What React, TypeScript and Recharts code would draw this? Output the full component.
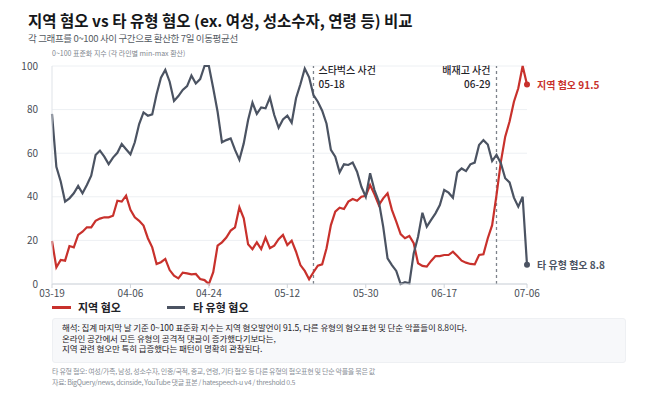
import React from 'react';
import {
  LineChart,
  Line,
  XAxis,
  YAxis,
  CartesianGrid,
  ReferenceLine,
  ReferenceDot,
} from 'recharts';

// Daily categories: 03-19 .. 07-06 (110 days)
const startDay = Date.UTC(2025, 2, 19);
const dayCount = 110;
const dates: string[] = Array.from({ length: dayCount }, (_, i) => {
  const d = new Date(startDay + i * 86400000);
  const mm = String(d.getUTCMonth() + 1).padStart(2, '0');
  const dd = String(d.getUTCDate()).padStart(2, '0');
  return `${mm}-${dd}`;
});

// 7-day moving average, min-max scaled to 0~100
const regionalHate: number[] = [
  19.7, 7.6, 11, 10.7, 17.4, 16.8, 22.5, 24, 26, 26,
  29, 30, 30.6, 30.6, 31.3, 38.2, 37.8, 40.5, 34, 30.6,
  29, 26.8, 21, 16.8, 9.2, 10, 11.5, 6.4, 3.8, 2.6,
  5.2, 4.9, 4.4, 4.6, 2.3, 1.8, 0, 5.4, 17.6, 19.1,
  21.3, 24.5, 26, 35.2, 30.1, 18.2, 16, 19.1, 16, 21.3,
  16.4, 17.6, 20.6, 22.5, 17.9, 19.9, 14.8, 8.7, 6, 2.2,
  5.4, 8.4, 9, 16.4, 27, 33.2, 35, 34.4, 37.8, 39,
  38.2, 40, 40.5, 45.4, 41.1, 36.2, 39.3, 41.6, 34, 28.6,
  22.9, 21, 22, 18.7, 9.5, 8.3, 8, 10.6, 12.8, 12.8,
  13.3, 13.3, 14.8, 12.8, 10.7, 9.8, 9.2, 9, 13.3, 13.6,
  21, 27, 40.8, 56, 67.6, 74.5, 83.6, 89.8, 100, 91.5,
];

const otherHate: number[] = [
  78, 53.8, 47, 37.8, 39.3, 41.6, 45, 41.6, 45.4, 49.7,
  59.2, 61.2, 58.4, 55, 58, 60.2, 64.2, 61.8, 59.5, 65,
  73.4, 78.7, 77.2, 77.8, 87, 94.6, 98.2, 92.8, 84, 86.2,
  89, 90.8, 95.6, 92, 94, 100, 100, 89.8, 79, 65,
  66, 66.8, 61.5, 57, 64.5, 75.2, 83.2, 78, 81, 80.6,
  85.5, 77.5, 71.7, 75.5, 77.2, 74, 85.2, 91.6, 98.8, 94.8,
  86.7, 83.6, 79.5, 73.5, 61.5, 58.4, 51.2, 54.9, 54.6, 55.7,
  51.5, 44.6, 40, 50.8, 43.1, 37.8, 26.3, 11.8, 8.7, 6,
  0, 0.8, 0.3, 14, 21.7, 32.7, 26.3, 29.4, 32.4, 36.2,
  43.1, 41.9, 39.6, 51.2, 53, 51.8, 54.9, 55.7, 63.8, 66,
  64, 56.4, 59.2, 55.4, 48.5, 46.6, 39.6, 35.5, 40, 8.8,
];

const xTicks = ['03-19', '04-06', '04-24', '05-12', '05-30', '06-17', '07-06'];
const yTicks = [0, 20, 40, 60, 80, 100];

const events = [
  { date: '05-18', title: '스타벅스 사건', side: 'right' },
  { date: '06-29', title: '배재고 사건', side: 'left' },
];

const seriesNames = { regional: '지역 혐오', other: '타 유형 혐오' };

const data = dates.map((date, i) => ({
  date,
  regional: regionalHate[i],
  other: otherHate[i],
}));

const RED = '#c8312c';
const GRAY = '#4b5362';
const FONT = '"Noto Sans CJK KR", "Noto Sans", sans-serif';

const lastIdx = dayCount - 1;
const lastDate = dates[lastIdx];
const lastRegional = regionalHate[lastIdx];
const lastOther = otherHate[lastIdx];

function EventLabel(props: any) {
  const { viewBox, title, date, side } = props;
  const x = viewBox.x;
  const y = viewBox.y;
  const right = side === 'right';
  const tx = right ? x + 5 : x - 6;
  const anchor = right ? 'start' : 'end';
  return (
    <g fontFamily={FONT} fontSize={10} fontWeight={500} fill="#1f2328">
      <text x={tx} y={y + 8} textAnchor={anchor}>
        {title}
      </text>
      <text x={tx} y={y + 22} textAnchor={anchor}>
        {date}
      </text>
    </g>
  );
}

function EndLabel(props: any) {
  const { viewBox, text, color } = props;
  return (
    <text
      x={viewBox.x + viewBox.width / 2 + 10}
      y={viewBox.y + viewBox.height / 2 + 4}
      fill={color}
      fontFamily={FONT}
      fontSize={10}
      fontWeight={700}
    >
      {text}
    </text>
  );
}

export default function App() {
  return (
    <div
      style={{
        position: 'absolute',
        left: 0,
        top: 0,
        width: 658,
        height: 403,
        background: '#ffffff',
        fontFamily: FONT,
        overflow: 'hidden',
      }}
    >
      <div
        style={{
          position: 'absolute',
          left: 28,
          top: 9,
          fontSize: 15.5,
          lineHeight: '22px',
          fontWeight: 700,
          color: '#15171a',
          whiteSpace: 'nowrap',
        }}
      >
        지역 혐오 vs 타 유형 혐오 (ex. 여성, 성소수자, 연령 등) 비교
      </div>
      <div
        style={{
          position: 'absolute',
          left: 28,
          top: 31,
          fontSize: 9.5,
          lineHeight: '14px',
          letterSpacing: -0.35,
          color: '#555b63',
          whiteSpace: 'nowrap',
        }}
      >
        각 그래프를 0~100 사이 구간으로 환산한 7일 이동평균선
      </div>
      <div
        style={{
          position: 'absolute',
          left: 52,
          top: 47,
          fontSize: 7,
          lineHeight: '12px',
          color: '#80868e',
          whiteSpace: 'nowrap',
        }}
      >
        0~100 표준화 지수 (각 라인별 min-max 환산)
      </div>

      <div style={{ position: 'absolute', left: 0, top: 0 }}>
        <LineChart
          width={658}
          height={300}
          data={data}
          margin={{ top: 66, right: 131, bottom: 0, left: 12 }}
        >
          <CartesianGrid vertical={false} stroke="#edf0f3" strokeWidth={1} />
          <XAxis
            dataKey="date"
            ticks={xTicks}
            interval={0}
            height={16}
            tick={{ fontSize: 10, fill: '#4a4f57', fontFamily: FONT }}
            tickLine={{ stroke: '#cfd4da' }}
            tickSize={4}
            tickMargin={2}
            axisLine={{ stroke: '#cfd4da' }}
          />
          <YAxis
            domain={[0, 100]}
            ticks={yTicks}
            width={40}
            tick={{ fontSize: 10, fill: '#4a4f57', fontFamily: FONT }}
            tickLine={false}
            tickMargin={8}
            axisLine={{ stroke: '#dfe3e8' }}
          />
          {events.map((ev) => (
            <ReferenceLine
              key={ev.date}
              x={ev.date}
              stroke="#7d838b"
              strokeWidth={1.3}
              strokeDasharray="3 3"
              label={(p: any) => (
                <EventLabel {...p} title={ev.title} date={ev.date} side={ev.side} />
              )}
            />
          ))}
          <Line
            type="linear"
            dataKey="regional"
            name={seriesNames.regional}
            stroke={RED}
            strokeWidth={2.2}
            dot={false}
            activeDot={false}
            isAnimationActive={false}
          />
          <Line
            type="linear"
            dataKey="other"
            name={seriesNames.other}
            stroke={GRAY}
            strokeWidth={2.2}
            dot={false}
            activeDot={false}
            isAnimationActive={false}
          />
          <ReferenceDot
            x={lastDate}
            y={lastRegional}
            r={3}
            fill={RED}
            stroke="none"
            ifOverflow="visible"
            label={(p: any) => (
              <EndLabel {...p} color={RED} text={`${seriesNames.regional} ${lastRegional.toFixed(1)}`} />
            )}
          />
          <ReferenceDot
            x={lastDate}
            y={lastOther}
            r={3}
            fill={GRAY}
            stroke="none"
            ifOverflow="visible"
            label={(p: any) => (
              <EndLabel {...p} color={GRAY} text={`${seriesNames.other} ${lastOther.toFixed(1)}`} />
            )}
          />
        </LineChart>
      </div>

      {/* legend */}
      <div
        style={{
          position: 'absolute',
          left: 52,
          top: 301,
          display: 'flex',
          alignItems: 'center',
          fontSize: 11,
          lineHeight: '13px',
          fontWeight: 700,
          color: '#1f2328',
          whiteSpace: 'nowrap',
        }}
      >
        <span style={{ width: 19, height: 3, background: RED, display: 'inline-block', marginRight: 7 }} />
        <span style={{ width: 89 }}>{seriesNames.regional}</span>
        <span style={{ width: 18, height: 3, background: GRAY, display: 'inline-block', marginRight: 8 }} />
        <span>{seriesNames.other}</span>
      </div>

      {/* interpretation note */}
      <div
        style={{
          position: 'absolute',
          left: 52,
          top: 318,
          width: 574,
          height: 45,
          boxSizing: 'border-box',
          background: '#f7f8fa',
          border: '1px solid #eef0f3',
          borderRadius: 3,
          padding: '3px 0 0 9px',
          fontSize: 8.5,
          lineHeight: '10.5px',
          letterSpacing: -0.1,
          color: '#1f2328',
          whiteSpace: 'nowrap',
        }}
      >
        <div>해석: 집계 마지막 날 기준 0~100 표준화 지수는 지역 혐오발언이 91.5, 다른 유형의 혐오표현 및 단순 악플들이 8.8이다.</div>
        <div>온라인 공간에서 모든 유형의 공격적 댓글이 증가했다기보다는,</div>
        <div>지역 관련 혐오만 특히 급증했다는 패턴이 명확히 관찰된다.</div>
      </div>

      <div
        style={{
          position: 'absolute',
          left: 52,
          top: 366,
          fontSize: 7,
          lineHeight: '11px',
          letterSpacing: -0.3,
          color: '#8a9098',
          whiteSpace: 'nowrap',
        }}
      >
        <div>타 유형 혐오: 여성/가족, 남성, 성소수자, 인종/국적, 종교, 연령, 기타 혐오 등 다른 유형의 혐오표현 및 단순 악플을 묶은 값</div>
        <div>자료: BigQuery/news, dcinside, YouTube 댓글 표본 / hatespeech-u v4 / threshold 0.5</div>
      </div>
    </div>
  );
}
